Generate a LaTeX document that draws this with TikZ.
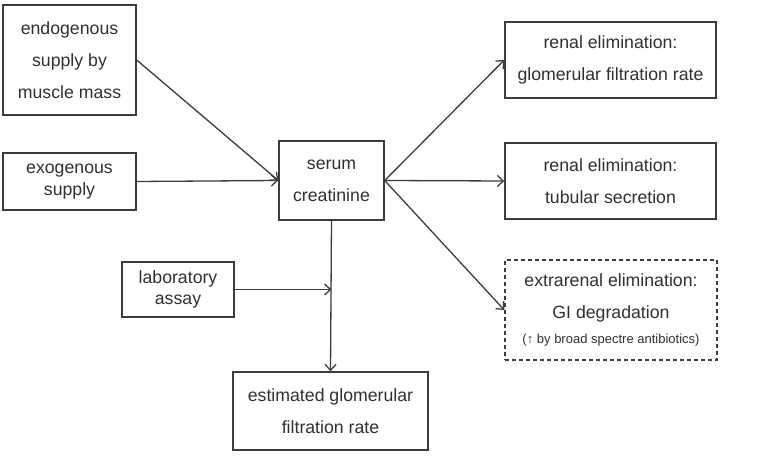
\documentclass[tikz,border=0pt]{standalone}
\usepackage{fontspec}
\setmainfont{Liberation Sans}
\usetikzlibrary{arrows.meta}
\definecolor{linegray}{HTML}{3C3C3C}
\definecolor{textgray}{HTML}{303030}
\begin{document}
\begin{tikzpicture}[x=1pt, y=-1pt,
  >={Straight Barb[length=6pt,width=11pt]},
  box/.style={draw=linegray, line width=1.4pt, inner sep=0pt, align=center, text=textgray, font=\fontsize{17.7}{32}\selectfont},
  tightbox/.style={box, font=\fontsize{17.7}{21.5}\selectfont},
  flow/.style={->, draw=linegray, line width=1.3pt}]
\useasboundingbox (0,0) rectangle (782,462);
\node[box, minimum width=133, minimum height=110] (endo) at (69.5,60) {endogenous\\supply by\\muscle mass};
\node[tightbox, minimum width=133, minimum height=57] (exo) at (69.5,181.5) {exogenous\\supply};
\node[box, minimum width=105, minimum height=79] (scr) at (331.5,180.5) {serum\\creatinine};
\node[tightbox, minimum width=112, minimum height=55] (assay) at (178,289.5) {laboratory\\assay};
\node[box, minimum width=195, minimum height=78] (egfr) at (330.5,411) {estimated glomerular\\filtration rate};
\node[box, minimum width=211, minimum height=76] (gfr) at (610.5,60) {renal elimination:\\glomerular filtration rate};
\node[box, minimum width=211, minimum height=76] (tub) at (610.5,181) {renal elimination:\\tubular secretion};
\node[box, dash pattern=on 4pt off 3pt, minimum width=212, minimum height=100] (gi) at (611,310) {extrarenal elimination:\\GI degradation\\[-7pt]{\fontsize{13}{15}\selectfont (↑ by broad spectre antibiotics)}};
\coordinate (join) at (scr.south |- assay.east);
\draw[flow] (endo.east) -- (scr.west);
\draw[flow] (exo.east) -- (scr.west);
\draw[flow] (scr.east) -- (gfr.west);
\draw[flow] (scr.east) -- (tub.west);
\draw[flow] (scr.east) -- (gi.west);
\draw[flow] (scr.south) -- (egfr.north);
\draw[flow] (assay.east) -- (join);
\end{tikzpicture}
\end{document}
